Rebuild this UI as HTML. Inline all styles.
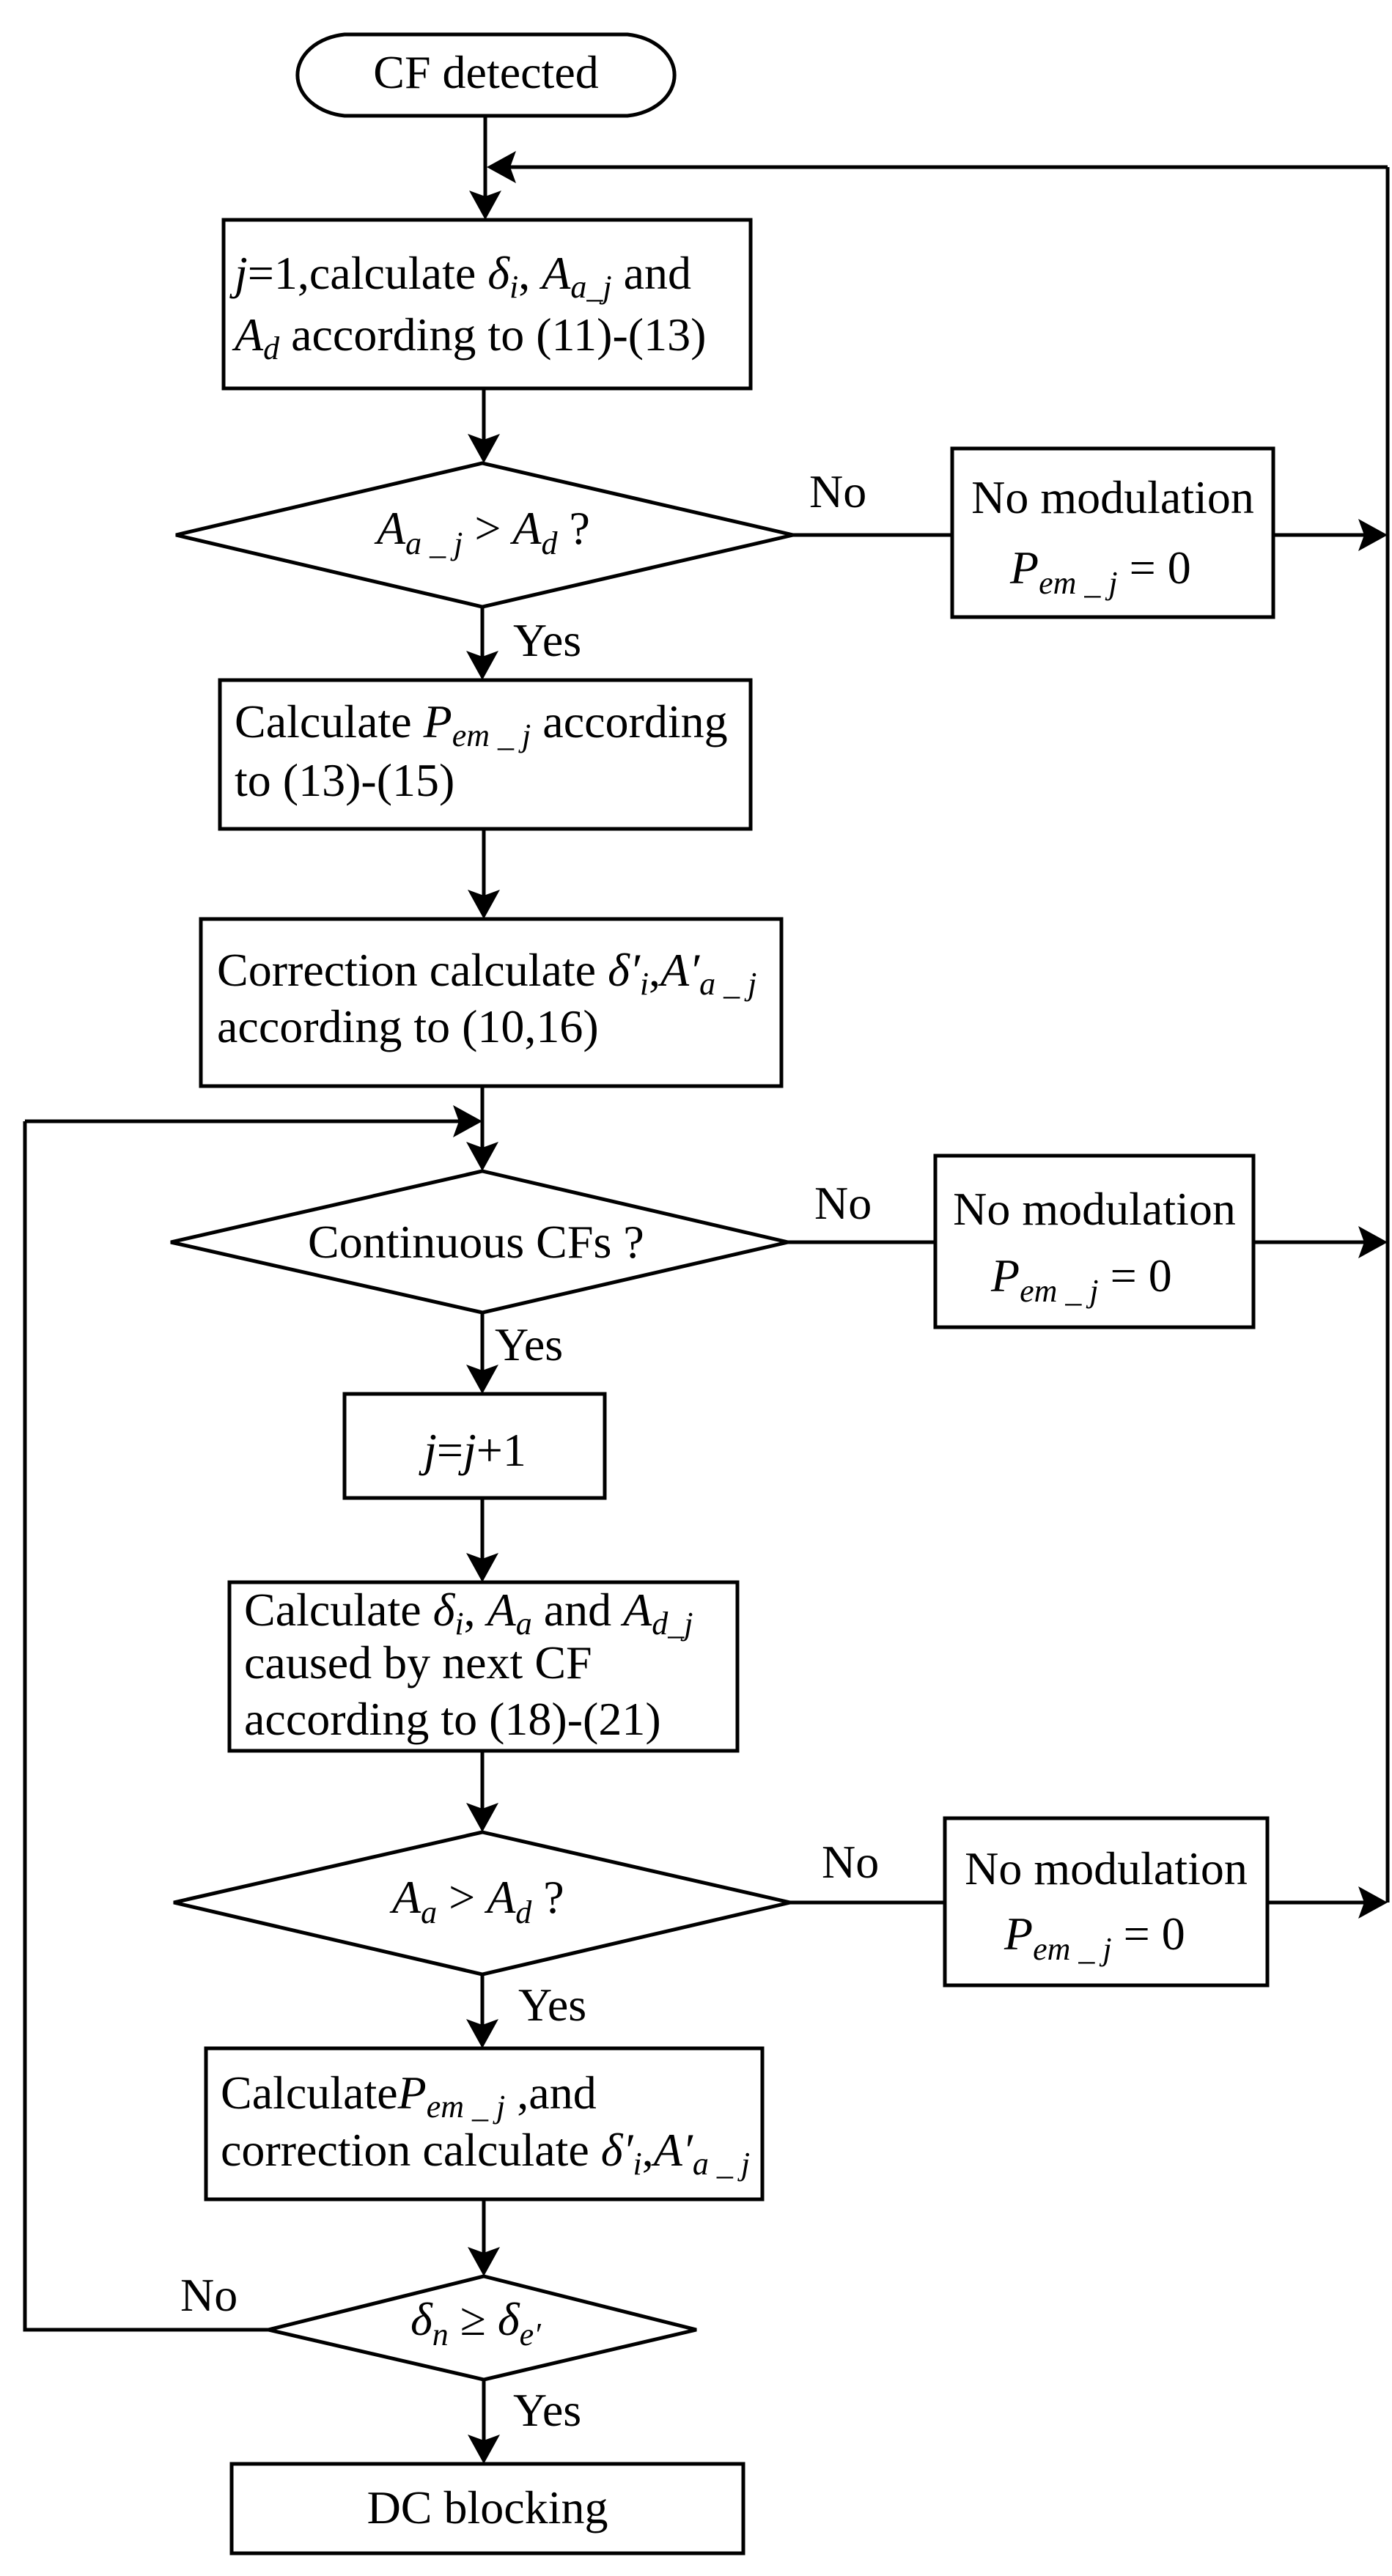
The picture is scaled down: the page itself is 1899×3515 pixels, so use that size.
<!DOCTYPE html>
<html><head><meta charset="utf-8"><style>
html,body{margin:0;padding:0;background:#fff}
svg{display:block}
text{font-family:"Liberation Serif",serif;font-size:64px;fill:#000}
.i{font-style:italic}
.s{font-size:44px;font-style:italic}
</style></head><body>
<svg width="1899" height="3515" viewBox="0 0 1899 3515" xmlns="http://www.w3.org/2000/svg">
<g stroke="#000" stroke-width="5" fill="none">
<path d="M470,47 H856 A74,56 0 0 1 856,158 H470 A74,56 0 0 1 470,47 Z"/>
<rect x="305" y="300" width="719" height="230"/>
<rect x="1299" y="612" width="438" height="230"/>
<rect x="300" y="928" width="724" height="203"/>
<rect x="274" y="1254" width="792" height="228"/>
<rect x="1276" y="1577" width="434" height="234"/>
<rect x="470" y="1902" width="355" height="142"/>
<rect x="313" y="2159" width="693" height="230"/>
<rect x="1289" y="2481" width="440" height="228"/>
<rect x="281" y="2795" width="759" height="206"/>
<rect x="316" y="3362" width="698" height="122"/>
<polygon points="658,632 1082,730 658,828 240,730"/>
<polygon points="658,1598 1075,1695 658,1791 233,1695"/>
<polygon points="658,2500 1078,2596 658,2694 237,2596"/>
<polygon points="660,3106 950,3179 660,3247 366,3179"/>
<path d="M662,158 V280"/>
<path d="M1893,228 H680"/>
<path d="M1893,228 V2596"/>
<path d="M660,530 V612"/>
<path d="M1082,730 H1299 M1737,730 H1870"/>
<path d="M658,828 V908"/>
<path d="M660,1131 V1234"/>
<path d="M658,1482 V1578"/>
<path d="M34,1530 H640 M34,1530 V3179 H366"/>
<path d="M1075,1695 H1276 M1710,1695 H1870"/>
<path d="M658,1791 V1882"/>
<path d="M658,2044 V2139"/>
<path d="M658,2389 V2480"/>
<path d="M1078,2596 H1289 M1729,2596 H1870"/>
<path d="M658,2694 V2775"/>
<path d="M660,3001 V3086"/>
<path d="M660,3247 V3342"/>
</g>
<g fill="#000">
<polygon points="662,300 640,260 662,268 684,260"/>
<polygon points="664,228 704,206 696,228 704,250"/>
<polygon points="660,632 638,592 660,600 682,592"/>
<polygon points="1893,730 1853,708 1861,730 1853,752"/>
<polygon points="658,928 636,888 658,896 680,888"/>
<polygon points="660,1254 638,1214 660,1222 682,1214"/>
<polygon points="658,1598 636,1558 658,1566 680,1558"/>
<polygon points="658,1530 618,1508 626,1530 618,1552"/>
<polygon points="1893,1695 1853,1673 1861,1695 1853,1717"/>
<polygon points="658,1902 636,1862 658,1870 680,1862"/>
<polygon points="658,2159 636,2119 658,2127 680,2119"/>
<polygon points="658,2500 636,2460 658,2468 680,2460"/>
<polygon points="1893,2596 1853,2574 1861,2596 1853,2618"/>
<polygon points="658,2795 636,2755 658,2763 680,2755"/>
<polygon points="660,3106 638,3066 660,3074 682,3066"/>
<polygon points="660,3362 638,3322 660,3330 682,3322"/>
</g>
<text x="663" y="120" text-anchor="middle">CF detected</text>
<text x="320" y="394"><tspan class="i">j</tspan>=1,calculate <tspan class="i">δ</tspan><tspan class="s" dy="12">i</tspan><tspan dy="-12">, </tspan><tspan class="i">A</tspan><tspan class="s" dy="12">a_j</tspan><tspan dy="-12"> and</tspan></text>
<text x="320" y="478"><tspan class="i">A</tspan><tspan class="s" dy="12">d</tspan><tspan dy="-12"> according to (11)-(13)</tspan></text>
<text x="514" y="742"><tspan class="i">A</tspan><tspan class="s" dy="14">a _ j</tspan><tspan dy="-14"> &gt; </tspan><tspan class="i">A</tspan><tspan class="s" dy="14">d</tspan><tspan dy="-14"> ?</tspan></text>
<text x="1104" y="692">No</text>
<text x="1518" y="700" text-anchor="middle">No modulation</text>
<text x="1378" y="796"><tspan class="i">P</tspan><tspan class="s" dy="14">em _ j</tspan><tspan dy="-14"> = 0</tspan></text>
<text x="700" y="895">Yes</text>
<text x="320" y="1006">Calculate <tspan class="i">P</tspan><tspan class="s" dy="12">em _ j</tspan><tspan dy="-12"> according</tspan></text>
<text x="320" y="1086">to (13)-(15)</text>
<text x="296" y="1345">Correction calculate <tspan class="i">δ′</tspan><tspan class="s" dy="12">i</tspan><tspan dy="-12">,</tspan><tspan class="i">A′</tspan><tspan class="s" dy="12">a _ j</tspan></text>
<text x="296" y="1422">according to (10,16)</text>
<text x="1111" y="1663">No</text>
<text x="420" y="1716">Continuous CFs ?</text>
<text x="1493" y="1671" text-anchor="middle">No modulation</text>
<text x="1352" y="1762"><tspan class="i">P</tspan><tspan class="s" dy="14">em _ j</tspan><tspan dy="-14"> = 0</tspan></text>
<text x="675" y="1856">Yes</text>
<text x="648" y="2000" text-anchor="middle"><tspan class="i">j</tspan>=<tspan class="i">j</tspan>+1</text>
<text x="333" y="2218">Calculate <tspan class="i">δ</tspan><tspan class="s" dy="12">i</tspan><tspan dy="-12">, </tspan><tspan class="i">A</tspan><tspan class="s" dy="12">a</tspan><tspan dy="-12"> and </tspan><tspan class="i">A</tspan><tspan class="s" dy="12">d_j</tspan></text>
<text x="333" y="2290">caused by next CF</text>
<text x="333" y="2367">according to (18)-(21)</text>
<text x="1121" y="2562">No</text>
<text x="535" y="2610"><tspan class="i">A</tspan><tspan class="s" dy="14">a</tspan><tspan dy="-14"> &gt; </tspan><tspan class="i">A</tspan><tspan class="s" dy="14">d</tspan><tspan dy="-14"> ?</tspan></text>
<text x="1509" y="2571" text-anchor="middle">No modulation</text>
<text x="1370" y="2660"><tspan class="i">P</tspan><tspan class="s" dy="14">em _ j</tspan><tspan dy="-14"> = 0</tspan></text>
<text x="707" y="2757">Yes</text>
<text x="301" y="2877">Calculate<tspan class="i">P</tspan><tspan class="s" dy="12">em _ j</tspan><tspan dy="-12"> ,and</tspan></text>
<text x="301" y="2955">correction calculate <tspan class="i">δ′</tspan><tspan class="s" dy="12">i</tspan><tspan dy="-12">,</tspan><tspan class="i">A′</tspan><tspan class="s" dy="12">a _ j</tspan></text>
<text x="246" y="3153">No</text>
<text x="560" y="3186"><tspan class="i">δ</tspan><tspan class="s" dy="14">n</tspan><tspan dy="-14"> ≥ </tspan><tspan class="i">δ</tspan><tspan class="s" dy="14">e′</tspan></text>
<text x="700" y="3310">Yes</text>
<text x="665" y="3443" text-anchor="middle">DC blocking</text>
</svg>
</body></html>
